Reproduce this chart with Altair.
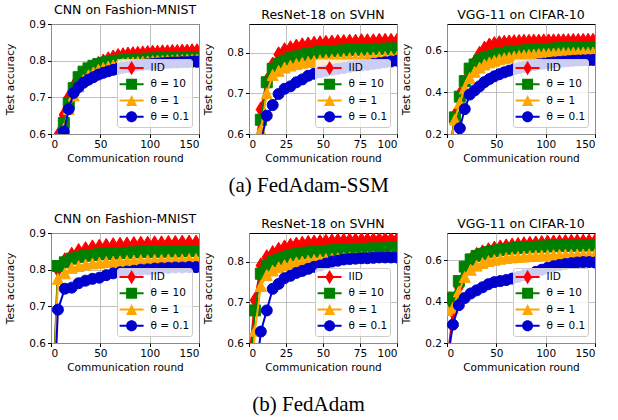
import altair as alt
import pandas as pd

SERIES = ["IID", "θ = 10", "θ = 1", "θ = 0.1"]
COLORS = ["#ff0000", "#008000", "#ffa500", "#0000cd"]

# plot markers (thin diamond, square, triangle, circle)
MARKERS = [
    "M0,-1.414L0.85,0L0,1.414L-0.85,0Z",
    "square",
    "M0,-1L1,1L-1,1Z",
    "circle",
]
# legend keys: a short filled bar (the line) with the marker on it; the two
# leading moves only fix every key to the same height
_BOX = "M0.846,-1.1M0.846,1.1"
_BAR = "M-1,-0.154H2.692V0.154H-1Z"
KEYS = [
    _BOX + _BAR + "M0.846,-1.1L1.506,0L0.846,1.1L0.186,0Z",
    _BOX + _BAR + "M0,-0.846H1.692V0.846H0Z",
    _BOX + _BAR + "M0.846,-0.846L1.692,0.846L0,0.846Z",
    _BOX + _BAR + "M1.692,0A0.846,0.846,0,1,1,0,0A0.846,0.846,0,1,1,1.692,0Z",
]

# evaluation rounds
rounds_a150 = [3, 8, 13, 18, 23, 28, 33, 38, 43, 48, 53, 58, 63, 68, 73, 78, 83, 88, 93, 98,
               103, 108, 113, 118, 123, 128, 133, 138, 143, 148]
rounds_100 = [0, 4, 8, 12, 16, 20, 24, 28, 32, 36, 40, 44, 48, 52, 56, 60, 64, 68, 72, 76,
              80, 84, 88, 92, 96, 100]
rounds_b_cnn = [0, 7, 14, 21, 28, 35, 42, 49, 56, 63, 70, 77, 84, 91, 98, 105, 112, 119, 126,
                133, 140, 147]
rounds_b_vgg = [0, 6, 12, 18, 24, 30, 36, 42, 48, 54, 60, 66, 72, 78, 84, 90, 96, 102, 108, 114,
                120, 126, 132, 138, 144, 150]

# (a) FedAdam-SSM
a_cnn_iid = [0.52, 0.60, 0.652, 0.70, 0.73, 0.75, 0.765, 0.775, 0.783, 0.79, 0.797, 0.803, 0.808,
             0.812, 0.814, 0.816, 0.817, 0.818, 0.819, 0.82, 0.821, 0.821, 0.822, 0.822, 0.823,
             0.823, 0.824, 0.824, 0.825, 0.825]
a_cnn_t10 = [0.45, 0.56, 0.63, 0.685, 0.725, 0.755, 0.77, 0.779, 0.786, 0.791, 0.794, 0.797, 0.799,
             0.80, 0.801, 0.802, 0.803, 0.804, 0.805, 0.805, 0.806, 0.806, 0.807, 0.807, 0.808,
             0.808, 0.808, 0.809, 0.809, 0.809]
a_cnn_t1 = [0.42, 0.53, 0.615, 0.668, 0.705, 0.73, 0.748, 0.76, 0.768, 0.775, 0.78, 0.784, 0.787,
            0.79, 0.792, 0.794, 0.795, 0.796, 0.797, 0.798, 0.799, 0.80, 0.80, 0.801, 0.801, 0.802,
            0.802, 0.803, 0.803, 0.803]
a_cnn_t01 = [0.45, 0.55, 0.607, 0.668, 0.712, 0.728, 0.74, 0.748, 0.755, 0.762, 0.767, 0.771, 0.775,
             0.778, 0.781, 0.783, 0.785, 0.787, 0.789, 0.79, 0.791, 0.792, 0.793, 0.794, 0.795,
             0.795, 0.796, 0.796, 0.797, 0.797]

a_res_iid = [0.40, 0.55, 0.66, 0.73, 0.77, 0.795, 0.805, 0.81, 0.814, 0.817, 0.819, 0.821, 0.822,
             0.823, 0.824, 0.825, 0.825, 0.826, 0.826, 0.827, 0.827, 0.827, 0.828, 0.828, 0.828,
             0.828]
a_res_t10 = [0.40, 0.50, 0.635, 0.727, 0.76, 0.772, 0.78, 0.786, 0.79, 0.794, 0.797, 0.799, 0.801,
             0.802, 0.803, 0.804, 0.805, 0.806, 0.807, 0.807, 0.808, 0.808, 0.809, 0.809, 0.81, 0.81]
a_res_t1 = [0.38, 0.48, 0.61, 0.70, 0.745, 0.755, 0.763, 0.768, 0.772, 0.775, 0.777, 0.779, 0.781,
            0.782, 0.783, 0.784, 0.785, 0.786, 0.787, 0.787, 0.788, 0.788, 0.789, 0.789, 0.79, 0.79]
a_res_t01 = [0.30, 0.45, 0.58, 0.645, 0.671, 0.698, 0.711, 0.717, 0.727, 0.734, 0.743, 0.748, 0.752,
             0.755, 0.758, 0.76, 0.762, 0.765, 0.767, 0.768, 0.77, 0.772, 0.774, 0.776, 0.778, 0.78]

a_vgg_iid = [0.12, 0.29, 0.39, 0.45, 0.50, 0.545, 0.585, 0.61, 0.625, 0.632, 0.636, 0.638, 0.64,
             0.641, 0.642, 0.643, 0.643, 0.644, 0.644, 0.645, 0.645, 0.645, 0.646, 0.646, 0.646,
             0.647, 0.647, 0.647, 0.648, 0.648]
a_vgg_t10 = [0.12, 0.28, 0.38, 0.455, 0.515, 0.535, 0.555, 0.565, 0.573, 0.58, 0.585, 0.59, 0.594,
             0.597, 0.60, 0.602, 0.604, 0.606, 0.608, 0.609, 0.61, 0.611, 0.612, 0.613, 0.614,
             0.615, 0.615, 0.616, 0.616, 0.617]
a_vgg_t1 = [0.12, 0.27, 0.35, 0.42, 0.47, 0.50, 0.52, 0.535, 0.545, 0.553, 0.56, 0.565, 0.569,
            0.573, 0.576, 0.579, 0.581, 0.583, 0.585, 0.586, 0.587, 0.588, 0.589, 0.59, 0.59,
            0.591, 0.591, 0.592, 0.592, 0.593]
a_vgg_t01 = [0.08, 0.15, 0.228, 0.32, 0.39, 0.41, 0.43, 0.45, 0.465, 0.478, 0.488, 0.497, 0.505,
             0.512, 0.518, 0.523, 0.528, 0.532, 0.536, 0.539, 0.542, 0.545, 0.547, 0.549, 0.551,
             0.553, 0.554, 0.555, 0.556, 0.557]

# (b) FedAdam
b_cnn_iid = [0.30, 0.80, 0.825, 0.84, 0.85, 0.855, 0.86, 0.862, 0.864, 0.866, 0.867, 0.868, 0.869,
             0.87, 0.87, 0.871, 0.871, 0.872, 0.872, 0.873, 0.873, 0.873]
b_cnn_t10 = [0.30, 0.81, 0.82, 0.83, 0.835, 0.838, 0.84, 0.842, 0.843, 0.844, 0.845, 0.846, 0.847,
             0.848, 0.848, 0.849, 0.849, 0.85, 0.85, 0.85, 0.851, 0.851]
b_cnn_t1 = [0.28, 0.775, 0.79, 0.805, 0.81, 0.814, 0.817, 0.819, 0.821, 0.822, 0.823, 0.824, 0.825,
            0.826, 0.826, 0.827, 0.827, 0.828, 0.828, 0.828, 0.829, 0.829]
b_cnn_t01 = [0.25, 0.691, 0.748, 0.751, 0.763, 0.77, 0.775, 0.778, 0.785, 0.79, 0.793, 0.795, 0.797,
             0.80, 0.801, 0.803, 0.804, 0.805, 0.806, 0.806, 0.807, 0.807]

b_res_iid = [0.55, 0.705, 0.79, 0.81, 0.82, 0.828, 0.834, 0.838, 0.841, 0.843, 0.845, 0.846, 0.847,
             0.848, 0.849, 0.85, 0.85, 0.851, 0.851, 0.852, 0.852, 0.852, 0.853, 0.853, 0.853, 0.853]
b_res_t10 = [0.50, 0.68, 0.77, 0.79, 0.80, 0.806, 0.811, 0.815, 0.818, 0.82, 0.822, 0.824, 0.825,
             0.826, 0.827, 0.828, 0.829, 0.83, 0.83, 0.831, 0.831, 0.832, 0.832, 0.832, 0.833, 0.833]
b_res_t1 = [0.45, 0.63, 0.74, 0.767, 0.778, 0.786, 0.791, 0.795, 0.798, 0.80, 0.802, 0.804, 0.805,
            0.806, 0.807, 0.808, 0.809, 0.81, 0.81, 0.811, 0.811, 0.812, 0.812, 0.812, 0.813, 0.813]
b_res_t01 = [0.30, 0.50, 0.628, 0.68, 0.733, 0.745, 0.759, 0.765, 0.772, 0.777, 0.782, 0.787, 0.79,
             0.795, 0.80, 0.802, 0.805, 0.806, 0.807, 0.808, 0.808, 0.809, 0.81, 0.81, 0.81, 0.81]

b_vgg_iid = [0.10, 0.35, 0.47, 0.555, 0.60, 0.625, 0.638, 0.648, 0.656, 0.662, 0.667, 0.671, 0.674,
             0.677, 0.679, 0.681, 0.683, 0.685, 0.686, 0.687, 0.688, 0.689, 0.69, 0.69, 0.691, 0.691]
b_vgg_t10 = [0.40, 0.42, 0.50, 0.57, 0.605, 0.622, 0.632, 0.64, 0.646, 0.651, 0.655, 0.658, 0.66,
             0.662, 0.664, 0.666, 0.667, 0.668, 0.669, 0.67, 0.671, 0.671, 0.672, 0.672, 0.673, 0.673]
b_vgg_t1 = [0.36, 0.37, 0.45, 0.52, 0.555, 0.575, 0.588, 0.597, 0.603, 0.608, 0.612, 0.615, 0.617,
            0.619, 0.621, 0.623, 0.624, 0.625, 0.626, 0.627, 0.628, 0.628, 0.629, 0.629, 0.63, 0.63]
b_vgg_t01 = [0.10, 0.289, 0.383, 0.418, 0.44, 0.455, 0.47, 0.485, 0.495, 0.50, 0.505, 0.512, 0.52,
             0.528, 0.535, 0.545, 0.555, 0.565, 0.572, 0.578, 0.583, 0.587, 0.59, 0.592, 0.592, 0.59]

W, H = 148, 110


def panel(title, rounds, curves, xmax, xticks, ydom, yticks):
    rows = []
    for name, vals in zip(SERIES, curves):
        for r, v in zip(rounds, vals):
            rows.append({"round": r, "acc": v, "series": name})
    df = pd.DataFrame(rows)

    x = alt.X("round:Q", scale=alt.Scale(domain=[0, xmax], nice=False, zero=False),
              axis=alt.Axis(values=xticks, title="Communication round"))
    y = alt.Y("acc:Q", scale=alt.Scale(domain=ydom, nice=False, zero=False),
              axis=alt.Axis(values=yticks, format=".1f", title="Test accuracy"))

    layers = []
    for name, col, shp in zip(SERIES, COLORS, MARKERS):
        base = alt.Chart(df).transform_filter(alt.datum.series == name)
        layers.append(base.mark_line(color=col, strokeWidth=2, clip=True).encode(x=x, y=y))
        layers.append(base.mark_point(shape=shp, size=121, filled=True, fill=col, stroke=col,
                                      strokeWidth=1, opacity=1, clip=True).encode(x=x, y=y))

    leg = alt.Legend(title=None, orient="bottom-right", offset=7, direction="vertical",
                     symbolSize=169, symbolStrokeWidth=0, labelOffset=18, padding=2.6,
                     rowPadding=1.2, fillColor="rgba(255,255,255,0.8)", strokeColor="#cccccc",
                     cornerRadius=2.5, labelFont="DejaVu Sans", labelFontSize=10.5,
                     labelColor="black")
    key = alt.Chart(df).transform_filter("false").mark_point(
        filled=True, opacity=1, strokeWidth=0).encode(
        fill=alt.Fill("series:N", scale=alt.Scale(domain=SERIES, range=COLORS), legend=leg),
        shape=alt.Shape("series:N", scale=alt.Scale(domain=SERIES, range=KEYS), legend=leg),
    )
    return alt.layer(*layers, key).properties(width=W, height=H, title=title)


def row(panels, caption, offset):
    return alt.hconcat(*panels, spacing=50, bounds="flush", title=alt.TitleParams(
        caption, orient="bottom", anchor="middle", font="Liberation Serif", fontSize=21,
        fontWeight="normal", color="black", offset=offset, dx=8)).resolve_scale(
        x="independent", y="independent", fill="independent", shape="independent"
    ).resolve_legend(fill="independent", shape="independent")


t150 = [0, 50, 100, 150]
t100 = [0, 25, 50, 75, 100]

row_a = row([
    panel("CNN on Fashion-MNIST", rounds_a150, [a_cnn_iid, a_cnn_t10, a_cnn_t1, a_cnn_t01],
          150, t150, [0.6, 0.9], [0.6, 0.7, 0.8, 0.9]),
    panel("ResNet-18 on SVHN", rounds_100, [a_res_iid, a_res_t10, a_res_t1, a_res_t01],
          100, t100, [0.6, 0.87], [0.6, 0.7, 0.8]),
    panel("VGG-11 on CIFAR-10", rounds_a150, [a_vgg_iid, a_vgg_t10, a_vgg_t1, a_vgg_t01],
          150, t150, [0.2, 0.73], [0.2, 0.4, 0.6]),
], "(a) FedAdam-SSM", 11)

row_b = row([
    panel("CNN on Fashion-MNIST", rounds_b_cnn, [b_cnn_iid, b_cnn_t10, b_cnn_t1, b_cnn_t01],
          150, t150, [0.6, 0.9], [0.6, 0.7, 0.8, 0.9]),
    panel("ResNet-18 on SVHN", rounds_100, [b_res_iid, b_res_t10, b_res_t1, b_res_t01],
          100, t100, [0.6, 0.87], [0.6, 0.7, 0.8]),
    panel("VGG-11 on CIFAR-10", rounds_b_vgg, [b_vgg_iid, b_vgg_t10, b_vgg_t1, b_vgg_t01],
          150, t150, [0.2, 0.733], [0.2, 0.4, 0.6]),
], "(b) FedAdam", 21)

chart = alt.vconcat(row_a, row_b, spacing=16).resolve_scale(
    x="independent", y="independent", fill="independent", shape="independent"
).resolve_legend(fill="independent", shape="independent").configure(
    font="DejaVu Sans", background="white",
    padding={"left": 5, "top": 3, "right": 5, "bottom": 5}
).configure_view(stroke="black", strokeWidth=1).configure_axis(
    domain=False, grid=True, gridColor="#b0b0b0", gridWidth=0.8, tickColor="black",
    tickSize=3.5, tickWidth=1, labelFont="DejaVu Sans", labelFontSize=10.5, labelColor="black",
    labelPadding=2, titleFont="DejaVu Sans", titleFontSize=10.5, titleFontWeight="normal",
    titleColor="black", titlePadding=3
).configure_axisY(titlePadding=13).configure_title(
    font="DejaVu Sans", fontSize=12.5, fontWeight="normal", color="black", offset=3)

chart.save("out.html", embed_options={"renderer": "svg", "actions": False})
